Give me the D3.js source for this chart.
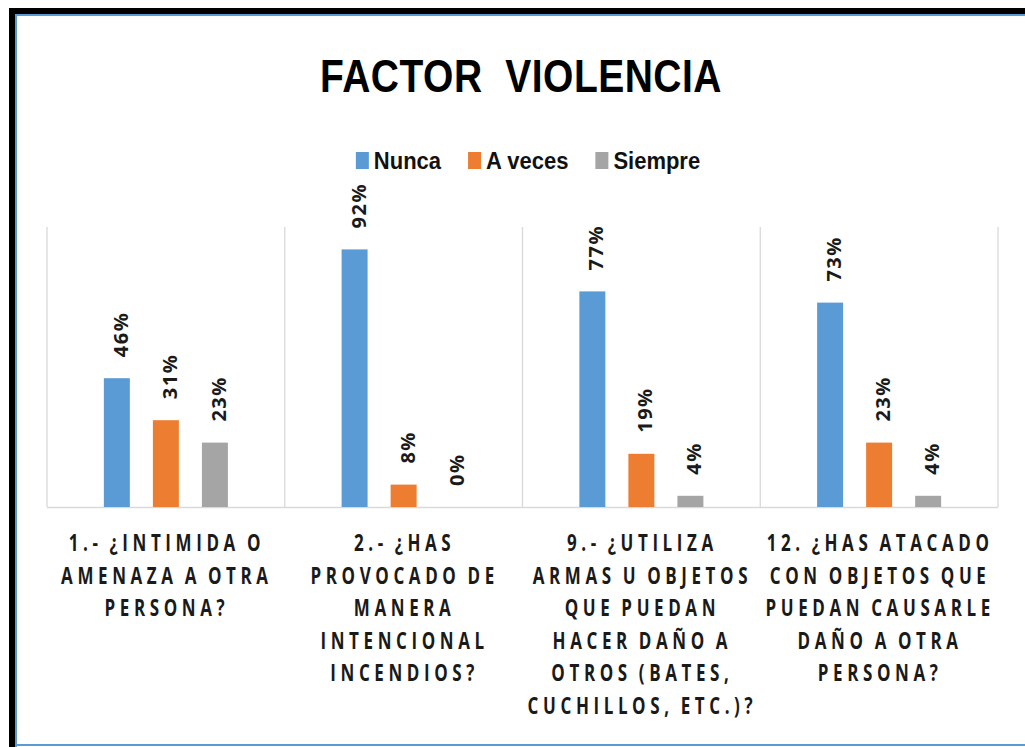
<!DOCTYPE html>
<html>
<head>
<meta charset="utf-8">
<script src="https://cdn.jsdelivr.net/npm/d3@7"></script>
<style>
  body { margin: 0; background: #fff; }
  svg { display: block; }
</style>
</head>
<body>
<div id="chart"></div>
<script>
// data
var categories = ["q1", "q2", "q9", "q12"];
var categoryLines = [
  ["1.- ¿INTIMIDA O", "AMENAZA A OTRA", "PERSONA?"],
  ["2.- ¿HAS", "PROVOCADO DE", "MANERA", "INTENCIONAL", "INCENDIOS?"],
  ["9.- ¿UTILIZA", "ARMAS U OBJETOS", "QUE PUEDAN", "HACER DAÑO A", "OTROS (BATES,", "CUCHILLOS, ETC.)?"],
  ["12. ¿HAS ATACADO", "CON OBJETOS QUE", "PUEDAN CAUSARLE", "DAÑO A OTRA", "PERSONA?"]
];
var series = ["Nunca", "A veces", "Siempre"];
var nunca   = [0.46, 0.92, 0.77, 0.73];
var aVeces  = [0.31, 0.08, 0.19, 0.23];
var siempre = [0.23, 0.00, 0.04, 0.04];
var colors = ["#5B9BD5", "#ED7D31", "#A5A5A5"];

var values = [nunca, aVeces, siempre];

var width = 1025, height = 747;
var svg = d3.select("#chart").append("svg")
    .attr("width", width)
    .attr("height", height);

// frame: thick black top/left, thin blue inner line
svg.append("rect").attr("x", 9).attr("y", 8).attr("width", width - 9).attr("height", 6).attr("fill", "#000");
svg.append("rect").attr("x", 9).attr("y", 8).attr("width", 6).attr("height", height - 8).attr("fill", "#000");
svg.append("rect").attr("x", 15).attr("y", 14).attr("width", width - 15).attr("height", 2).attr("fill", "#5B9BD5");
svg.append("rect").attr("x", 15).attr("y", 14).attr("width", 2).attr("height", height - 14).attr("fill", "#5B9BD5");
svg.append("rect").attr("x", 15).attr("y", 744).attr("width", width - 15).attr("height", 2).attr("fill", "#5B9BD5");

var plot = { left: 47, right: 998, top: 227, bottom: 507 };

var x0 = d3.scaleBand().domain(categories).range([plot.left, plot.right]);
var x1 = d3.scaleBand().domain(series).range([0, x0.bandwidth()])
    .paddingInner(0.47).paddingOuter(1.16);
var y = d3.scaleLinear().domain([0, 1]).range([plot.bottom, plot.top]);

// title
svg.append("text")
    .attr("transform", "translate(521,92) scale(1,1.2)")
    .attr("text-anchor", "middle")
    .style("font-family", "'Liberation Sans', Arial, sans-serif")
    .style("font-weight", "bold")
    .style("font-size", "39px")
    .style("letter-spacing", "0.5px")
    .attr("fill", "#000")
    .attr("xml:space", "preserve")
    .text("FACTOR  VIOLENCIA");

// legend
var legend = svg.append("g").attr("transform", "translate(0,169)");
var items = legend.selectAll("g").data(series).enter().append("g");
items.append("rect")
    .attr("y", -17).attr("width", 13).attr("height", 17)
    .attr("fill", function(d, i) { return colors[i]; });
items.append("text")
    .attr("x", 18)
    .attr("transform", "scale(1,1.12)")
    .style("font-family", "'Liberation Sans Narrow', 'Liberation Sans', Arial, sans-serif")
    .style("font-weight", "bold")
    .style("font-size", "22px")
    .attr("fill", "#111")
    .text(function(d) { return d; });
var offs = [], acc = 0;
items.each(function() {
  var w = 18 + this.querySelector("text").getComputedTextLength();
  offs.push(acc);
  acc += w + 27;
});
var legendWidth = acc - 27, legendStart = 528 - legendWidth / 2;
items.attr("transform", function(d, i) { return "translate(" + (legendStart + offs[i]) + ",0)"; });

// gridlines: category separators and baseline
var grid = svg.append("g").attr("stroke", "#d9d9d9").attr("stroke-width", 1.3);
grid.selectAll("line.sep")
    .data(categories.concat(["end"]))
    .enter().append("line")
    .attr("x1", function(d, i) { return plot.left + i * x0.bandwidth(); })
    .attr("x2", function(d, i) { return plot.left + i * x0.bandwidth(); })
    .attr("y1", plot.top).attr("y2", plot.bottom);
grid.append("line")
    .attr("x1", plot.left).attr("x2", plot.right)
    .attr("y1", plot.bottom + 0.5).attr("y2", plot.bottom + 0.5);

// bars and labels
var groups = svg.append("g").selectAll("g")
    .data(categories)
    .enter().append("g")
    .attr("transform", function(d) { return "translate(" + x0(d) + ",0)"; });

var cells = groups.selectAll("g")
    .data(function(d, ci) {
      return series.map(function(s, si) { return { s: s, si: si, v: values[si][ci] }; });
    })
    .enter().append("g");

cells.append("rect")
    .attr("x", function(d) { return x1(d.s); })
    .attr("y", function(d) { return y(d.v); })
    .attr("width", x1.bandwidth())
    .attr("height", function(d) { return plot.bottom - y(d.v); })
    .attr("fill", function(d) { return colors[d.si]; });

cells.append("text")
    .attr("transform", function(d) {
      var cx = x1(d.s) + x1.bandwidth() / 2 + 11;
      return "translate(" + cx + "," + (y(d.v) - 21) + ") rotate(-90)";
    })
    .attr("text-anchor", "start")
    .style("font-family", "'Open Sans', sans-serif")
    .style("font-weight", "bold")
    .style("font-size", "20px")
    .style("letter-spacing", "1.5px")
    .attr("fill", "#1a1a1a")
    .text(function(d) { return d3.format(".0%")(d.v); });

// category labels
groups.each(function(d, ci) {
  var g = d3.select(this);
  var cx = x0.bandwidth() / 2 + 1;
  g.selectAll("text.cat")
      .data(categoryLines[ci])
      .enter().append("text")
      .attr("class", "cat")
      .attr("transform", function(line, li) {
        return "translate(" + cx + "," + (551 + li * 32.6) + ") scale(1,1.32)";
      })
      .attr("text-anchor", "middle")
      .style("font-family", "'Open Sans', sans-serif")
      .style("font-weight", "bold")
      .style("font-size", "17px")
      .style("letter-spacing", "4.6px")
      .style("word-spacing", "-2px")
      .attr("fill", "#1a1a1a")
      .text(function(line) { return line; });
});
</script>
</body>
</html>
